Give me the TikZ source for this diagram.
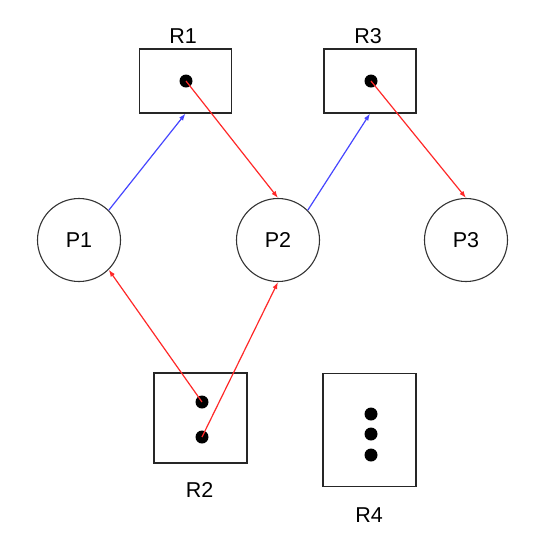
\documentclass[tikz,border=0pt]{standalone}
\usepackage{fontspec}
\setmainfont{Liberation Sans}
\usetikzlibrary{arrows.meta}
\begin{document}
\begin{tikzpicture}[x=1pt,y=-1pt,
  proc/.style={circle,draw=black!80,line width=1.1pt,minimum size=83pt,inner sep=0pt,font=\fontsize{21.5}{24}\selectfont},
  res/.style={rectangle,draw=black!85,line width=1.1pt,inner sep=0pt},
  lbl/.style={font=\fontsize{21.5}{24}\selectfont,inner sep=0pt},
  dotn/.style={circle,fill=black,minimum size=13pt,inner sep=0pt},
  req/.style={draw={rgb,255:red,70;green,70;blue,255},line width=1.2pt,-{Latex[length=7pt,width=5pt]}},
  asg/.style={draw={rgb,255:red,255;green,40;blue,40},line width=1.2pt,-{Latex[length=7pt,width=5pt]}}]
\useasboundingbox (0,0) rectangle (543,550);
% resources
\node[res,minimum width=92pt,minimum height=64pt] (R1) at (185.5,81) {};
\node[res,minimum width=92pt,minimum height=64pt] (R3) at (370,81) {};
\node[res,minimum width=93pt,minimum height=90pt] (R2) at (200.5,418) {};
\node[res,minimum width=93pt,minimum height=113pt] (R4) at (369.5,430) {};
\node[lbl] (R1l) at (183,36) {R1};
\node[lbl] (R3l) at (368,36) {R3};
\node[lbl] (R2l) at (199.5,490) {R2};
\node[lbl] (R4l) at (369,515) {R4};
% dots
\node[dotn] (d1) at (186,81) {};
\node[dotn] (d3) at (371,81) {};
\node[dotn] (d2a) at (202,402) {};
\node[dotn] (d2b) at (202,437) {};
\node[dotn] (d4a) at (371,414) {};
\node[dotn] (d4b) at (371,434) {};
\node[dotn] (d4c) at (371,455) {};
% processes
\node[proc] (P1) at (79,240) {P1};
\node[proc] (P2) at (278,240) {P2};
\node[proc] (P3) at (466,240) {P3};
% edges
\draw[req] (P1.45) -- (R1.south);
\draw[asg] (d1.center) -- (P2.north);
\draw[req] (P2.45) -- (R3.south);
\draw[asg] (d3.center) -- (P3.north);
\draw[asg] (d2a.center) -- (P1.-45);
\draw[asg] (d2b.center) -- (P2.south);
\end{tikzpicture}
\end{document}
